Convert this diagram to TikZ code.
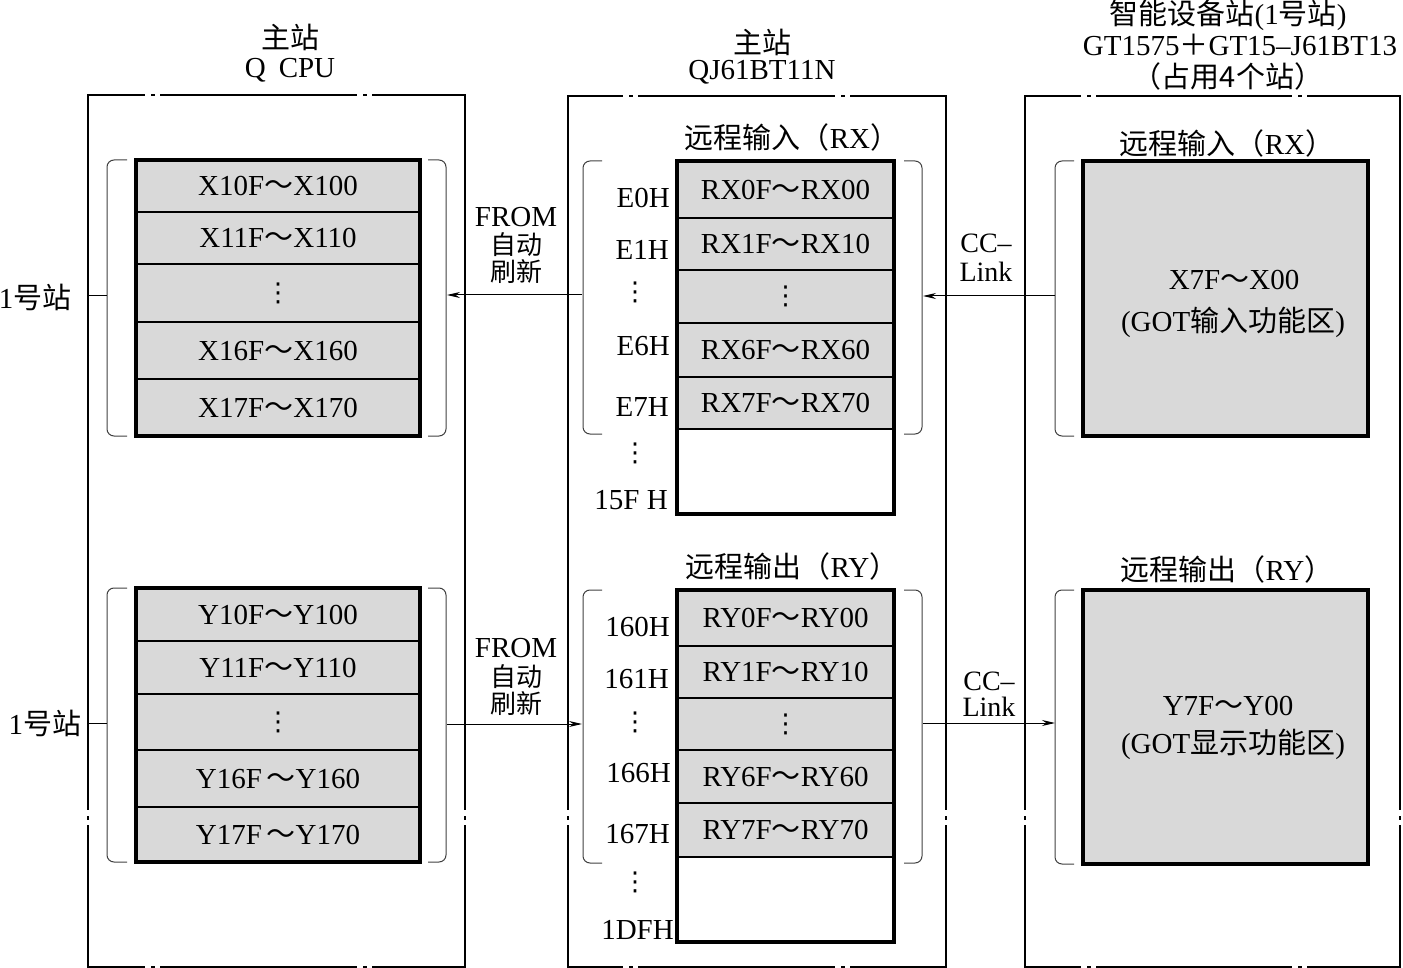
\documentclass[tikz,border=0pt]{standalone}
\usepackage{fontspec}
\setmainfont{Liberation Serif}
\newfontfamily\cjk{Noto Sans CJK SC}
\newfontfamily\dv{DejaVu Sans}
\usetikzlibrary{arrows.meta,fit}
\definecolor{cellgray}{RGB}{217,217,217}
\newcommand{\bigf}{\fontsize{29}{30}\selectfont}
\newcommand{\tl}{{\cjk ～}}
\newcommand{\vd}{{\dv\fontsize{26}{26}\selectfont ⋮}}
\newcommand{\hgap}[2]{\fill[white] (#1,#2-3) rectangle (#1+15,#2+3); \draw[frame] (#1+6,#2) -- (#1+10,#2);}
\newcommand{\vgap}[2]{\fill[white] (#1-3,#2) rectangle (#1+3,#2+15); \draw[frame] (#1,#2+6) -- (#1,#2+10);}
\begin{document}
\begin{tikzpicture}[x=1pt,y=-1pt,
  frame/.style={line width=1.4pt},
  lcell/.style={draw, line width=2.6pt, fill=cellgray, minimum width=284pt, inner sep=0pt, outer sep=0pt, anchor=north west, font=\bigf},
  mcell/.style={draw, line width=2.6pt, fill=cellgray, minimum width=217pt, inner sep=0pt, outer sep=0pt, anchor=north west, font=\bigf},
  outer/.style={draw, line width=3.6pt, inner sep=0pt, outer sep=0pt},
  bigbox/.style={draw, line width=3.6pt, fill=cellgray, minimum width=285pt, inner sep=0pt, outer sep=0pt, anchor=north west},
  txt/.style={font=\bigf, inner sep=0pt},
  smcjk/.style={font=\fontsize{26}{26}\selectfont, inner sep=0pt},
  lab/.style={font=\bigf, inner sep=0pt, anchor=east},
  brk/.style={line width=1pt, black!75, rounded corners=7pt},
  conn/.style={line width=1pt},
  arr/.style={line width=1pt, -{Stealth[length=13pt,width=6pt]}},
]
\useasboundingbox (0,0) rectangle (1403,968);

% outer frames
\draw[frame] (88,95) rectangle (465,967);
\draw[frame] (568,96) rectangle (946,967);
\draw[frame] (1025,96) rectangle (1400,967);
\hgap{145}{95}\hgap{357}{95}\hgap{145}{967}\hgap{357}{967}
\hgap{623}{96}\hgap{835}{96}\hgap{623}{967}\hgap{835}{967}
\hgap{1081}{96}\hgap{1292}{96}\hgap{1081}{967}\hgap{1292}{967}
\vgap{88}{810}\vgap{465}{810}\vgap{568}{810}\vgap{946}{810}\vgap{1025}{810}\vgap{1400}{810}

% headers
\node[txt] (h1a) at (290,37) {\cjk 主站};
\node[txt] (h1b) at (290,70) {Q\hspace{0.45em}CPU};
\node[txt] (h2a) at (762,42) {\cjk 主站};
\node[txt] (h2b) at (762,72) {QJ61BT11N};
\node[txt] (h3a) at (1228,15) {{\cjk 智能设备站}(1{\cjk 号站})};
\node[txt] (h3b) at (1240,45) {GT1575{\cjk ＋}GT15–J61BT13};
\node[txt] (h3c) at (1228,76) {\cjk （占用4个站）};

% left top stack
\node[lcell, minimum height=52pt] (L1) at (136,160) {X10F\tl X100};
\node[lcell, minimum height=52pt] (L2) at (136,212) {X11F\tl X110};
\node[lcell, minimum height=58pt] (L3) at (136,264) {\vd};
\node[lcell, minimum height=57pt] (L4) at (136,322) {X16F\tl X160};
\node[lcell, minimum height=57pt] (L5) at (136,379) {X17F\tl X170};
\node[outer, fit=(L1)(L5)] (Ltop) {};
\draw[brk] (127,160) -- (107,160) -- (107,436) -- (127,436);
\draw[brk] (428,160) -- (446,160) -- (446,436) -- (428,436);

% left bottom stack
\node[lcell, minimum height=53pt] (Y1) at (136,588) {Y10F\tl Y100};
\node[lcell, minimum height=53pt] (Y2) at (136,641) {Y11F\tl Y110};
\node[lcell, minimum height=56pt] (Y3) at (136,694) {\vd};
\node[lcell, minimum height=57pt] (Y4) at (136,750) {Y16F\,\tl Y160};
\node[lcell, minimum height=55pt] (Y5) at (136,807) {Y17F\,\tl Y170};
\node[outer, fit=(Y1)(Y5)] (Lbot) {};
\draw[brk] (127,588) -- (107,588) -- (107,862) -- (127,862);
\draw[brk] (428,588) -- (446,588) -- (446,862) -- (428,862);

% station labels
\node[txt] (st1) at (35,297) {1{\cjk 号站}};
\node[txt] (st2) at (45,723) {1{\cjk 号站}};
\coordinate (s1a) at (88,296); \coordinate (s1b) at (107,296);
\coordinate (s2a) at (88,723); \coordinate (s2b) at (107,723);
\draw[conn] (s1a) -- (s1b);
\draw[conn] (s2a) -- (s2b);

% middle top
\node[txt] (rxm) at (792,137) {{\cjk 远程输入（}RX{\cjk ）}};
\node[mcell, minimum height=57pt] (M1) at (677,161) {RX0F\tl RX00};
\node[mcell, minimum height=52pt] (M2) at (677,218) {RX1F\tl RX10};
\node[mcell, minimum height=53pt] (M3) at (677,270) {\vd};
\node[mcell, minimum height=54pt] (M4) at (677,323) {RX6F\tl RX60};
\node[mcell, minimum height=52pt] (M5) at (677,377) {RX7F\tl RX70};
\node[mcell, minimum height=85pt, fill=white] (M6) at (677,429) {};
\node[outer, fit=(M1)(M6)] (Mtop) {};
\draw[brk] (602,161) -- (583,161) -- (583,434) -- (602,434);
\draw[brk] (904,161) -- (922,161) -- (922,434) -- (904,434);
\node[lab] (e0) at (670,198) {E0H};
\node[lab] (e1) at (669,250) {E1H};
\node[txt] (ed1) at (635,292) {\vd};
\node[lab] (e6) at (670,346) {E6H};
\node[lab] (e7) at (669,407) {E7H};
\node[txt] (ed2) at (635,453) {\vd};
\node[lab] (e15) at (668,500) {15F H};

% middle bottom
\node[txt] (rym) at (792,566) {{\cjk 远程输出（}RY{\cjk ）}};
\node[mcell, minimum height=56pt] (N1) at (677,590) {RY0F\tl RY00};
\node[mcell, minimum height=52pt] (N2) at (677,646) {RY1F\tl RY10};
\node[mcell, minimum height=52pt] (N3) at (677,698) {\vd};
\node[mcell, minimum height=53pt] (N4) at (677,750) {RY6F\tl RY60};
\node[mcell, minimum height=54pt] (N5) at (677,803) {RY7F\tl RY70};
\node[mcell, minimum height=85pt, fill=white] (N6) at (677,857) {};
\node[outer, fit=(N1)(N6)] (Mbot) {};
\draw[brk] (602,590) -- (583,590) -- (583,863) -- (602,863);
\draw[brk] (904,590) -- (922,590) -- (922,863) -- (904,863);
\node[lab] (f0) at (670,627) {160H};
\node[lab] (f1) at (669,679) {161H};
\node[txt] (fd1) at (635,722) {\vd};
\node[lab] (f6) at (671,773) {166H};
\node[lab] (f7) at (670,834) {167H};
\node[txt] (fd2) at (635,882) {\vd};
\node[lab] (f1d) at (674,930) {1DFH};

% right
\node[txt] (rxr) at (1227,143) {{\cjk 远程输入（}RX{\cjk ）}};
\node[bigbox, minimum height=275pt] (G1) at (1083,161) {};
\node[txt] (g1a) at (1234,280) {X7F\tl X00};
\node[txt] (g1b) at (1233,322) {(GOT{\cjk 输入功能区})};
\draw[brk] (1074,161) -- (1055,161) -- (1055,436) -- (1074,436);
\node[txt] (ryr) at (1227,569) {{\cjk 远程输出（}RY{\cjk ）}};
\node[bigbox, minimum height=274pt] (G2) at (1083,590) {};
\node[txt] (g2a) at (1228,706) {Y7F\tl Y00};
\node[txt] (g2b) at (1233,744) {(GOT{\cjk 显示功能区})};
\draw[brk] (1074,590) -- (1055,590) -- (1055,864) -- (1074,864);

% connectors
\coordinate (a1s) at (582,295); \coordinate (a1e) at (447,295);
\coordinate (a2s) at (447,724); \coordinate (a2e) at (582,724);
\coordinate (a3s) at (1055,296); \coordinate (a3e) at (923,296);
\coordinate (a4s) at (923,723); \coordinate (a4e) at (1055,723);
\draw[arr] (a1s) -- (a1e);
\draw[arr] (a2s) -- (a2e);
\draw[arr] (a3s) -- (a3e);
\draw[arr] (a4s) -- (a4e);
\node[txt] (fr1a) at (516,217) {FROM};
\node[smcjk] (fr1b) at (516,245) {\cjk 自动};
\node[smcjk] (fr1c) at (516,272) {\cjk 刷新};
\node[txt] (fr2a) at (516,648) {FROM};
\node[smcjk] (fr2b) at (516,677) {\cjk 自动};
\node[smcjk] (fr2c) at (516,704) {\cjk 刷新};
\node[txt, align=center, font=\fontsize{28}{29}\selectfont] (cc1) at (986,258) {CC–\\Link};
\node[txt, align=center, font=\fontsize{28}{26}\selectfont] (cc2) at (989,694) {CC–\\Link};
\end{tikzpicture}
\end{document}
